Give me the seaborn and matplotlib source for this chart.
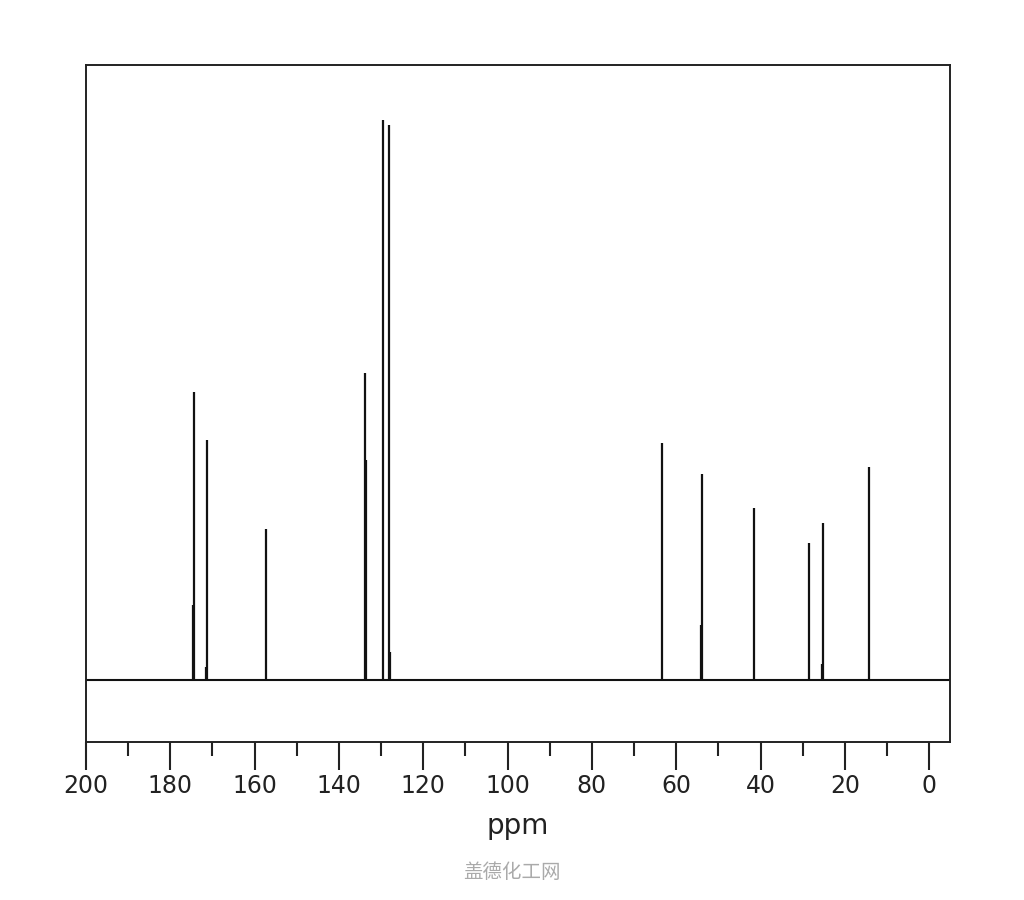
import matplotlib
matplotlib.use("Agg")
import matplotlib.pyplot as plt
import numpy as np
import seaborn as sns

sns.set_theme(style="white")
plt.rcParams["font.family"] = ["DejaVu Sans", "Noto Sans CJK SC"]

# 13C NMR stick spectrum: shift (ppm) and relative intensity (tallest = 100)
shift_ppm = [174.4, 174.7, 171.3, 171.55, 157.3,
             133.75, 133.5, 129.5, 128.1, 127.85,
             63.3, 53.9, 54.15, 41.5, 28.5, 25.1, 25.35, 14.2]
intensity = [51.4, 13.4, 42.9, 2.3, 27.0,
             54.8, 39.3, 100.0, 99.1, 5.0,
             42.3, 36.8, 9.8, 30.7, 24.5, 28.0, 2.9, 38.0]

major_ticks = [200, 180, 160, 140, 120, 100, 80, 60, 40, 20, 0]
minor_ticks = [190, 170, 150, 130, 110, 90, 70, 50, 30, 10]

fig = plt.figure(figsize=(10.24, 9.0), dpi=100)
ax = fig.add_axes([0.084, 0.1756, 0.844, 0.7522])

ax.axhline(0, color="#111111", lw=1.5, zorder=2)
ax.vlines(shift_ppm, 0, intensity, color="#111111", lw=1.6, zorder=3)

ax.set_xlim(200, -5)
ax.set_ylim(-11.07, 109.8)

ax.set_xticks(major_ticks)
ax.set_xticks(minor_ticks, minor=True)
ax.set_xticklabels([str(t) for t in major_ticks], fontsize=17, color="#222222")
ax.tick_params(axis="x", which="major", direction="out", length=20, width=1.5,
               color="#222222", pad=3, bottom=True)
ax.tick_params(axis="x", which="minor", direction="out", length=10, width=1.5,
               color="#222222", bottom=True)
ax.set_yticks([])

for s in ax.spines.values():
    s.set_color("#222222")
    s.set_linewidth(1.4)

ax.set_xlabel("ppm", fontsize=20, color="#222222", labelpad=10)

fig.text(0.5, 0.03, "盖德化工网", ha="center", va="center", fontsize=14,
         color="#aaaaaa", family=["Noto Sans CJK SC", "DejaVu Sans"])

fig.savefig("out.png", dpi=100)
